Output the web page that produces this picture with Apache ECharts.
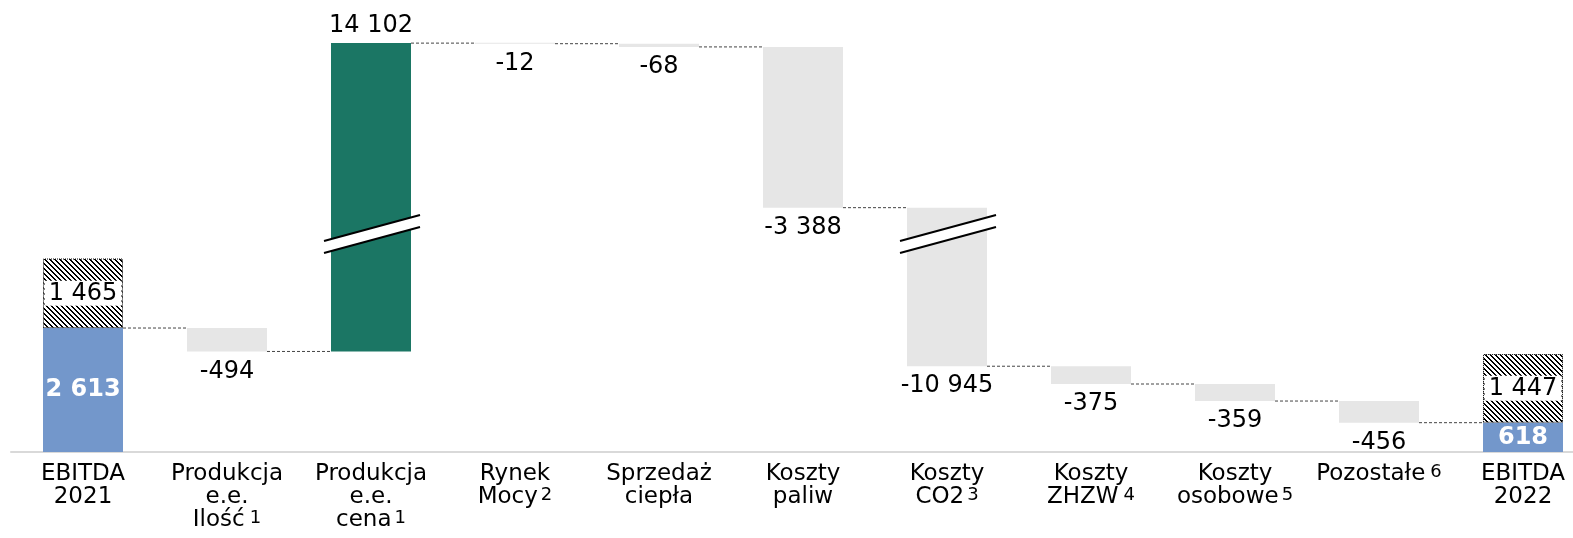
<!DOCTYPE html>
<html>
<head>
<meta charset="utf-8">
<script src="https://cdn.jsdelivr.net/npm/echarts@6/dist/echarts.min.js"></script>
<style>
    html, body { margin: 0; padding: 0; background: #fff; }
    #chart { width: 1573px; height: 538px; }
</style>
</head>
<body>
<div id="chart"></div>
<script>
// dane (mln zł)
var categories = [
    ['EBITDA', '2021'], ['Produkcja', 'e.e.', 'Ilość'], ['Produkcja', 'e.e.', 'cena'],
    ['Rynek', 'Mocy'], ['Sprzedaż', 'ciepła'], ['Koszty', 'paliw'], ['Koszty', 'CO2'],
    ['Koszty', 'ZHZW'], ['Koszty', 'osobowe'], ['Pozostałe'], ['EBITDA', '2022']
];
var footnotes = ['', '1', '1', '2', '', '', '3', '4', '5', '6', ''];
var footnoteHigh = [false, true, false, false, false, false, false, true, false, true, false];
var changes = [2613, -494, 14102, -12, -68, -3388, -10945, -375, -359, -456, 618];
var isTotal = [true, false, false, false, false, false, false, false, false, false, true];
var oneOffs = [1465, null, null, null, null, null, null, null, null, null, 1447];
var axisBreak = { start: 4593, end: 12196 };

var colorTotal = '#7397CB', colorUp = '#1B7664', colorDown = '#E6E6E6';
var font = 'DejaVu Sans';

function fmt(v) {
    var s = String(Math.abs(v)).replace(/\B(?=(\d{3})+(?!\d))/g, ' ');
    return (v < 0 ? '-' : '') + s;
}

function hatchPattern() {
    var n = 5;
    var c = document.createElement('canvas');
    c.width = n; c.height = n;
    var ctx = c.getContext('2d');
    ctx.fillStyle = '#fff';
    ctx.fillRect(0, 0, n, n);
    ctx.fillStyle = '#000';
    for (var i = 0; i < n; i++) {
        ctx.fillRect(i, i, 1, 1);
        ctx.fillRect((i + 1) % n, i, 1, 1);
    }
    return c;
}

var running = 0;
var baseData = [], barData = [], hatchData = [], links = [];
changes.forEach(function (v, i) {
    var from, to;
    if (isTotal[i]) { from = 0; to = v; }
    else { from = running; to = running + v; }
    running = to;
    baseData.push(Math.min(from, to));
    var color = isTotal[i] ? colorTotal : (v > 0 ? colorUp : colorDown);
    var label;
    if (isTotal[i]) {
        label = { position: 'inside', color: '#fff', fontWeight: 'bold', fontSize: 24 };
    } else if (v > 0) {
        label = { position: 'top', distance: 5 };
    } else {
        label = { position: 'bottom', distance: 8 };
    }
    barData.push({ value: Math.abs(to - from), itemStyle: { color: color }, label: label });
    hatchData.push(oneOffs[i] == null ? '-' : oneOffs[i]);
    if (i < changes.length - 1) links.push([i, running]);
});

var breakMarks = [];
changes.forEach(function (v, i) {
    if (!isTotal[i] && Math.abs(v) > axisBreak.end - axisBreak.start) breakMarks.push([i, axisBreak.start]);
});

var chart = echarts.init(document.getElementById('chart'));
var option = {
    animation: false,
    grid: { left: 11, width: 1584, top: 25, height: 427, outerBoundsMode: 'none' },
    xAxis: {
        type: 'category',
        data: categories.map(function (c) { return c.join(' '); }),
        axisLine: { lineStyle: { color: '#D9D9D9', width: 2 } },
        axisTick: { show: false },
        axisLabel: {
            interval: 0,
            margin: 11,
            formatter: function (val, idx) {
                var lines = categories[idx].map(function (t) { return '{t|' + t + '}'; });
                if (footnotes[idx]) {
                    lines[lines.length - 1] += '{' + (footnoteHigh[idx] ? 'hi' : 'lo') + '|' + footnotes[idx] + '}';
                }
                return lines.join('\n');
            },
            rich: {
                t: { fontFamily: font, fontSize: 23, lineHeight: 23, color: '#000' },
                hi: { fontFamily: font, fontSize: 18, lineHeight: 18, color: '#000', verticalAlign: 'top', padding: [0, 0, 0, 5] },
                lo: { fontFamily: font, fontSize: 18, lineHeight: 18, color: '#000', verticalAlign: 'middle', padding: [0, 0, 4, 3] }
            }
        }
    },
    yAxis: {
        type: 'value',
        min: 0,
        max: 16603,
        breaks: [{ start: axisBreak.start, end: axisBreak.end, gap: 0 }],
        breakArea: { show: false },
        axisLabel: { show: false },
        axisLine: { show: false },
        axisTick: { show: false },
        splitLine: { show: false }
    },
    series: [
        {
            type: 'bar', stack: 'w', barWidth: 80, silent: true,
            itemStyle: { color: 'transparent' },
            data: baseData
        },
        {
            type: 'bar', stack: 'w', barWidth: 80, barMinHeight: 1,
            label: {
                show: true, fontFamily: font, fontSize: 24, color: '#000',
                formatter: function (p) { return fmt(changes[p.dataIndex]); }
            },
            data: barData
        },
        {
            type: 'bar', stack: 'w', barWidth: 80,
            itemStyle: { color: { image: hatchPattern(), repeat: 'repeat' }, borderColor: '#000', borderWidth: 1, borderType: 'dotted' },
            label: {
                show: true, position: 'inside', fontFamily: font, fontSize: 24, color: '#000',
                backgroundColor: '#fff', width: 77, height: 25, lineHeight: 25, align: 'center',
                formatter: function (p) { return fmt(p.value); }
            },
            data: hatchData
        },
        {
            type: 'custom', z: 3, silent: true,
            renderItem: function (params, api) {
                var a = api.coord([api.value(0), api.value(1)]);
                var b = api.coord([api.value(0) + 1, api.value(1)]);
                return {
                    type: 'line',
                    shape: { x1: a[0] + 40, y1: a[1], x2: b[0] - 40, y2: b[1] },
                    style: { stroke: '#444', lineWidth: 1, lineDash: [3, 2] }
                };
            },
            data: links
        },
        {
            type: 'custom', z: 5, silent: true,
            renderItem: function (params, api) {
                var p = api.coord([api.value(0), api.value(1)]);
                var x = p[0], y = p[1];
                return {
                    type: 'group',
                    children: [
                        { type: 'polygon', shape: { points: [[x - 47, y + 7], [x + 49, y - 19], [x + 49, y - 7], [x - 47, y + 19]] }, style: { fill: '#fff' } },
                        { type: 'line', shape: { x1: x - 47, y1: y + 7, x2: x + 49, y2: y - 19 }, style: { stroke: '#000', lineWidth: 2 } },
                        { type: 'line', shape: { x1: x - 47, y1: y + 19, x2: x + 49, y2: y - 7 }, style: { stroke: '#000', lineWidth: 2 } }
                    ]
                };
            },
            data: breakMarks
        }
    ]
};
chart.setOption(option);
</script>
</body>
</html>
